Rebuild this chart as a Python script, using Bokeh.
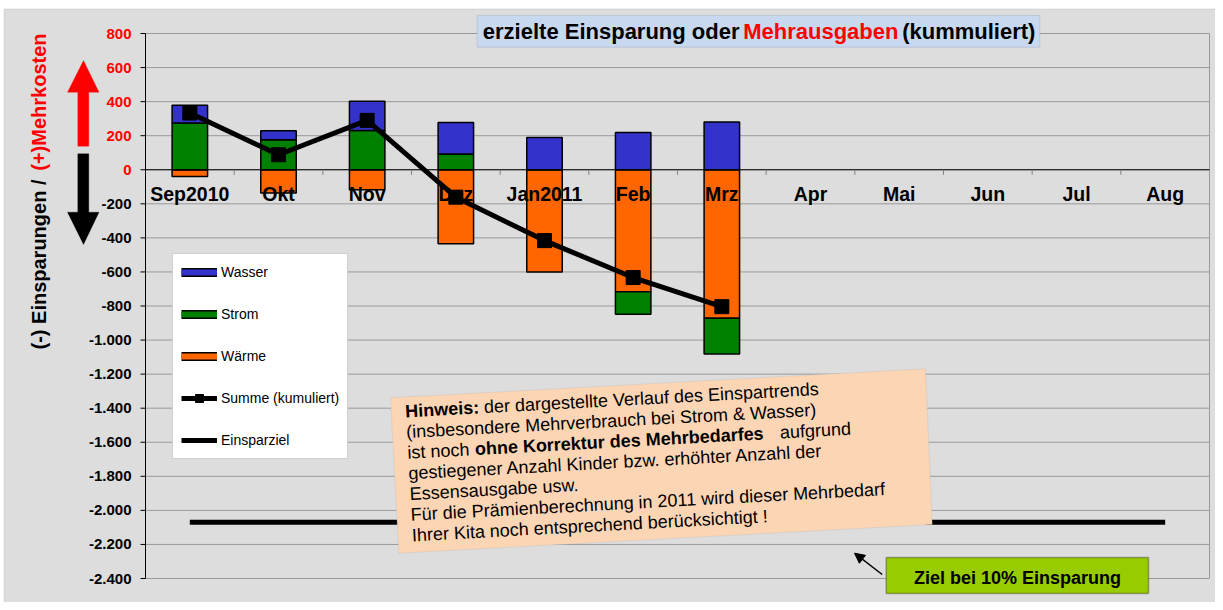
import math
import numpy as np
from bokeh.plotting import figure
from bokeh.models import (Range1d, Label, PolyAnnotation, Arrow, NormalHead, Legend,
                          LegendItem, ColumnDataSource)
from bokeh.core.properties import value
from bokeh.embed import file_html
from bokeh.resources import INLINE

# ---------------- data ----------------
months = ["Sep2010", "Okt", "Nov", "Dez", "Jan2011", "Feb", "Mrz",
          "Apr", "Mai", "Jun", "Jul", "Aug"]
wasser = [103, 53, 171, 186, 190, 218, 280]
strom = [275, 176, 231, 92, 0, -133, -210]
waerme = [-39, -137, -118, -435, -600, -716, -872]
summe = [333, 88, 290, -161, -416, -633, -804]
einsparziel = [-2070, -2070, -2070, -2070, -2070, -2070,
               -2070, -2070, -2070, -2070, -2070, -2070]
y_ticks = [800, 600, 400, 200, 0, -200, -400, -600, -800, -1000, -1200,
           -1400, -1600, -1800, -2000, -2200, -2400]

FONT = "Liberation Sans"
C_WASSER, C_STROM, C_WAERME = "#3333CC", "#008000", "#FF6600"
GRID = "#9A9A9A"

# ---------------- layout (pixels) ----------------
W, H = 1215, 602                 # canvas
PL, PR, PT, PB = 145, 1209, 33, 578   # plot area inside the canvas
ncat = len(months)
ymax, ymin = y_ticks[0], y_ticks[-1]
kx = (PR - PL) / ncat
ky = (PB - PT) / (ymax - ymin)

def sx(X):
    return X
def sy(Y):
    return H - Y

p = figure(width=W, height=H,
           x_range=Range1d(-PL / kx, ncat + (W - PR) / kx),
           y_range=Range1d(ymin - (H - PB) / ky, ymax + PT / ky),
           output_backend="svg", toolbar_location=None, title=None,
           x_axis_location=None, y_axis_location=None,
           min_border=0, min_border_left=0, min_border_right=0,
           min_border_top=0, min_border_bottom=0,
           background_fill_color="white", border_fill_color="white",
           outline_line_color=None)
p.xgrid.visible = False
p.ygrid.visible = False

# chart area background with its border
bg = [(3.5, 8.5), (W + 50, 8.5), (W + 50, H + 50), (3.5, H + 50)]
p.add_layout(PolyAnnotation(xs=[sx(a) for a, b in bg], ys=[sy(b) for a, b in bg],
                            xs_units="screen", ys_units="screen", level="underlay",
                            fill_color="#DDDDDD", fill_alpha=1.0,
                            line_color="#A6A6A6", line_width=1))

# grid lines, frame right border, value axis
nt = len(y_ticks)
p.segment(x0=[0] * nt, x1=[ncat] * nt, y0=y_ticks, y1=y_ticks, line_color=GRID, line_width=1)
p.segment(x0=[ncat], x1=[ncat], y0=[ymin], y1=[ymax], line_color=GRID, line_width=1)
p.segment(x0=[0], x1=[0], y0=[ymin], y1=[ymax], line_color="black", line_width=1)
p.ray(x=[0] * nt, y=y_ticks, length=5, length_units="screen", angle=math.pi,
      line_color="black", line_width=1)

tick_text = [f"{v:,}".replace(",", ".") for v in y_ticks]
tick_col = ["#FF0000" if v >= 0 else "black" for v in y_ticks]
p.text(x=[0] * nt, y=y_ticks, text=tick_text, text_color=tick_col, x_offset=-14,
       text_align="right", text_baseline="middle", text_font=value(FONT),
       text_font_style="bold", text_font_size="15px")

# ---------------- stacked bars ----------------
x_c = [i + 0.5 for i in range(ncat)]
n = len(wasser)
pos = [0.0] * n
neg = [0.0] * n
for name, vals, col in [("Wärme", waerme, C_WAERME), ("Strom", strom, C_STROM), ("Wasser", wasser, C_WASSER)]:
    bottoms, tops = [], []
    for i, v in enumerate(vals):
        if v >= 0:
            b = pos[i]; pos[i] += v
        else:
            b = neg[i]; neg[i] += v
        bottoms.append(b); tops.append(b + v)
    p.vbar(x=x_c[:n], bottom=bottoms, top=tops, width=0.4,
           fill_color=col, line_color="black", line_width=1.5)

# category axis at zero
p.segment(x0=[0], x1=[ncat], y0=[0], y1=[0], line_color="black", line_width=1)
p.ray(x=list(range(1, ncat)), y=[0] * (ncat - 1), length=5, length_units="screen",
      angle=-math.pi / 2, line_color="#808080", line_width=1)
p.text(x=x_c, y=[0] * ncat, text=months, text_font=value(FONT), text_font_style="bold",
       text_font_size="19.5px", text_align="center", text_baseline="middle",
       y_offset=24, text_color="black")

# lines
ziel_r = p.line(x=x_c, y=einsparziel, line_width=5, line_color="black")
sum_l = p.line(x=x_c[:len(summe)], y=summe, line_width=5, line_color="black")
sum_s = p.scatter(x=x_c[:len(summe)], y=summe, marker="square", size=14,
                  fill_color="black", line_color="black")

# legend-only swatches (outlined bars), no visible data
empty = ColumnDataSource(data=dict(x=np.array([np.nan]), y=np.array([np.nan])))
def swatch(col):
    a = p.line(x="x", y="y", source=empty, line_color="black", line_width=9, line_cap="butt")
    b = p.line(x="x", y="y", source=empty, line_color=col, line_width=6, line_cap="butt")
    return [a, b]

legend = Legend(items=[
    LegendItem(label="Wasser", renderers=swatch(C_WASSER)),
    LegendItem(label="Strom", renderers=swatch(C_STROM)),
    LegendItem(label="Wärme", renderers=swatch(C_WAERME)),
    LegendItem(label="Summe (kumuliert)", renderers=[sum_l, sum_s]),
    LegendItem(label="Einsparziel", renderers=[ziel_r]),
], location=(172, H - 459), orientation="vertical", padding=8, spacing=22, margin=0,
    glyph_width=36, glyph_height=20, label_height=20, label_standoff=4,
    label_text_font=FONT, label_text_font_size="14px", label_text_color="black",
    background_fill_color="white", background_fill_alpha=1.0,
    border_line_color="#A0A0A0", border_line_width=1)
p.add_layout(legend)

# ---------------- y axis title (two colours) ----------------
p.add_layout(Label(x=sx(38), y=sy(349), x_units="screen", y_units="screen", angle=math.pi / 2,
                   text="(-) Einsparungen /", text_align="left", text_baseline="middle",
                   text_font=FONT, text_font_style="bold", text_font_size="20px", text_color="black"))
p.add_layout(Label(x=sx(38), y=sy(33), x_units="screen", y_units="screen", angle=math.pi / 2,
                   text="(+)Mehrkosten", text_align="right", text_baseline="middle",
                   text_font=FONT, text_font_style="bold", text_font_size="20px", text_color="#FF0000"))

# arrows beside the axis title
up = [(77.3, 145.7), (88.3, 145.7), (88.3, 91.7), (98.5, 91.7), (83, 60), (67, 91.7), (77.3, 91.7)]
down = [(77.3, 153.3), (88.3, 153.3), (88.3, 211.7), (98.5, 211.7), (83, 244), (67, 211.7), (77.3, 211.7)]
for pts, col in [(up, "#FF0000"), (down, "black")]:
    p.add_layout(PolyAnnotation(xs=[sx(a) for a, b in pts], ys=[sy(b) for a, b in pts],
                                xs_units="screen", ys_units="screen",
                                fill_color=col, fill_alpha=1.0, line_color=col, line_width=1))

# ---------------- title box ----------------
tb = [(476.7, 15), (1039.3, 15), (1039.3, 46.7), (476.7, 46.7)]
p.add_layout(PolyAnnotation(xs=[sx(a) for a, b in tb], ys=[sy(b) for a, b in tb],
                            xs_units="screen", ys_units="screen",
                            fill_color="#C8D8EF", fill_alpha=1.0, line_color="#8A9CB8", line_width=1))
for txt, X, col in [("erzielte Einsparung oder", 482.3, "black"),
                    ("Mehrausgaben", 742.7, "#FF0000"),
                    ("(kummuliert)", 901.7, "black")]:
    p.add_layout(Label(x=sx(X), y=sy(31), x_units="screen", y_units="screen", text=txt,
                       text_align="left", text_baseline="middle", text_font=FONT,
                       text_font_style="bold", text_font_size="22px", text_color=col))

# ---------------- note box (rotated) ----------------
nb = [(390, 397.3), (925, 368.3), (931.7, 524), (398.3, 552.7)]
p.add_layout(PolyAnnotation(xs=[sx(a) for a, b in nb], ys=[sy(b) for a, b in nb],
                            xs_units="screen", ys_units="screen",
                            fill_color="#FCD5B4", fill_alpha=1.0, line_color="#B8B8B8", line_width=1))
ang = math.atan2(29.0, 535.0)
note_lines = [
    [("Hinweis:", "bold", 0.0), ("der dargestellte Verlauf des Einspartrends", "normal", 79.0)],
    [("(insbesondere  Mehrverbrauch bei Strom & Wasser)", "normal", 0.0)],
    [("ist noch", "normal", 0.0), ("ohne Korrektur des  Mehrbedarfes", "bold", 67.6), ("aufgrund", "normal", 373.0)],
    [("gestiegener Anzahl  Kinder bzw. erhöhter Anzahl der", "normal", 0.0)],
    [("Essensausgabe usw.", "normal", 0.0)],
    [("Für die Prämienberechnung in 2011 wird dieser Mehrbedarf", "normal", 0.0)],
    [("Ihrer Kita noch entsprechend berücksichtigt !", "normal", 0.0)],
]
X0, Y0, GAP, MID = 405.0, 417.3, 20.7, 6.4
for k, segs in enumerate(note_lines):
    lx = X0 + k * GAP * math.sin(ang) - MID * math.sin(ang)
    ly = Y0 + k * GAP * math.cos(ang) - MID * math.cos(ang)
    for txt, style, off in segs:
        X = lx + off * math.cos(ang)
        Y = ly - off * math.sin(ang)
        p.add_layout(Label(x=sx(X), y=sy(Y), x_units="screen", y_units="screen", text=txt,
                           angle=ang, text_align="left", text_baseline="middle",
                           text_font=FONT, text_font_style=style, text_font_size="18px",
                           text_color="black"))

# ---------------- goal box + pointer ----------------
zb = [(885.7, 557), (1148, 557), (1148, 593), (885.7, 593)]
p.add_layout(PolyAnnotation(xs=[sx(a) for a, b in zb], ys=[sy(b) for a, b in zb],
                            xs_units="screen", ys_units="screen",
                            fill_color="#99CC00", fill_alpha=1.0, line_color="black", line_width=1.5))
p.add_layout(Label(x=sx(1017), y=sy(577), x_units="screen", y_units="screen",
                   text="Ziel bei 10% Einsparung", text_align="center", text_baseline="middle",
                   text_font=FONT, text_font_style="bold", text_font_size="18px", text_color="black"))
p.add_layout(Arrow(end=NormalHead(size=10, fill_color="black", line_color="black"),
                   x_start=sx(881.7), y_start=sy(574), x_end=sx(854), y_end=sy(552.7),
                   start_units="screen", end_units="screen", line_color="black", line_width=1.5))

open("out.html", "w").write(file_html(p, INLINE))
